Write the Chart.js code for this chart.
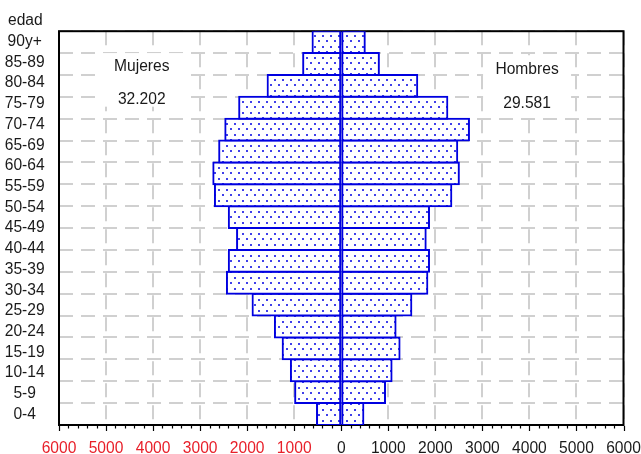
<!DOCTYPE html>
<html><head><meta charset="utf-8">
<script src="https://cdn.jsdelivr.net/npm/chart.js@4/dist/chart.umd.min.js"></script>
<style>html,body{margin:0;padding:0;background:#fff;}</style>
</head><body>
<canvas id="c" width="641" height="454"></canvas>
<script>
// Tick labels of the age axis (bottom to top, as printed)
const ageLabels = ['0-4','5-9','10-14','15-19','20-24','25-29','30-34','35-39','40-44','45-49','50-54','55-59','60-64','65-69','70-74','75-79','80-84','85-89','90y+'];
// Bar categories (18 bars drawn, bottom to top)
const barGroups = ['0-4','5-9','10-14','15-19','20-24','25-29','30-34','35-39','40-44','45-49','50-54','55-59','60-64','65-69','70-74','75-79','80-84','85+'];
// Series values (population per group)
const mujeres = [515,980,1070,1245,1410,1885,2430,2390,2215,2390,2685,2720,2595,2465,2170,1565,810,610];
const hombres = [470,930,1070,1240,1155,1490,1830,1865,1795,1865,2340,2500,2465,2715,2255,1615,800,500];
// Axis range / ticks
const xMin = -6000, xMax = 6000, majorStep = 1000, minorStep = 200;
const axisTitle = 'edad';
// Side texts
const notes = [
  {lines:['Mujeres','32.202'], x:-4240, y:[15.70,14.17], box:[16.5,14.05]},
  {lines:['Hombres','29.581'], x:3950, y:[15.56,13.99], box:[16.4,13.8]}
];

const FONT = '"Liberation Sans", Arial, sans-serif';
const FSIZE = 15.6;
const BLUE = '#0000e0';

function makePattern(){
  const c = document.createElement('canvas');
  c.width = 8; c.height = 11;
  const g = c.getContext('2d');
  g.fillStyle = '#ffffff'; g.fillRect(0,0,8,11);
  g.fillStyle = 'rgba(30,30,230,0.85)';
  g.fillRect(2,2,2,2);
  g.fillRect(6,7,2,2);
  return g.createPattern(c,'repeat');
}
const pattern = makePattern();

const decorPlugin = {
  id:'decor',
  beforeDatasetsDraw(chart){
    const {ctx, chartArea:a, scales} = chart;
    const xs = scales.x, ys = scales.y;
    ctx.save();
    ctx.font = FSIZE + 'px ' + FONT;
    // axis title
    ctx.fillStyle = '#1a1a1a';
    ctx.textAlign = 'left'; ctx.textBaseline = 'middle';
    ctx.fillText(axisTitle, scales.yl.left + 6, a.top - 11);
    // text boxes
    notes.forEach(n=>{
      const cx = xs.getPixelForValue(n.x);
      const yt = ys.getPixelForValue(n.box[0]), yb = ys.getPixelForValue(n.box[1]);
      ctx.fillStyle = '#ffffff';
      ctx.fillRect(cx-44, yt, 88, yb-yt);
      ctx.fillStyle = '#1a1a1a';
      ctx.textAlign = 'center';
      ctx.textBaseline = 'alphabetic';
      n.lines.forEach((t,i)=>ctx.fillText(t, cx, ys.getPixelForValue(n.y[i])));
    });
    // frame
    ctx.strokeStyle = '#000'; ctx.lineWidth = 2;
    ctx.strokeRect(a.left, a.top, a.right-a.left, a.bottom-a.top);
    // tick marks
    ctx.lineWidth = 1.2;
    for (let v = xMin; v <= xMax; v += minorStep){
      const px = Math.round(xs.getPixelForValue(v)) + 0.5;
      const len = (v % majorStep === 0) ? 5 : 2.5;
      ctx.beginPath(); ctx.moveTo(px, a.bottom+1); ctx.lineTo(px, a.bottom+1+len); ctx.stroke();
    }
    ctx.restore();
  }
};

const font = {family: FONT, size: FSIZE, weight:'normal'};

new Chart(document.getElementById('c'), {
  type:'bar',
  data:{
    labels: barGroups,
    datasets:[
      {label:'Mujeres', data: mujeres.map(v=>-v), xAxisID:'x', yAxisID:'y',
       backgroundColor: pattern, borderColor: BLUE, borderWidth:2, borderSkipped:false,
       inflateAmount:1, barPercentage:1, categoryPercentage:1},
      {label:'Hombres', data: hombres, xAxisID:'x', yAxisID:'y',
       backgroundColor: pattern, borderColor: BLUE, borderWidth:2, borderSkipped:false,
       inflateAmount:1, barPercentage:1, categoryPercentage:1}
    ]
  },
  options:{
    indexAxis:'y',
    responsive:false,
    animation:false,
    devicePixelRatio:1,
    layout:{padding:{left:2, right:17.5, top:31.2, bottom:0}},
    plugins:{
      legend:{display:false},
      tooltip:{enabled:false},
      title:{display:false}
    },
    scales:{
      x:{type:'linear', min:xMin, max:xMax, stacked:true, position:'bottom',
         ticks:{stepSize:majorStep, autoSkip:false, maxRotation:0, padding:14, font:font,
                callback:v=>String(Math.abs(v)),
                color:c=> (c.tick && c.tick.value < 0) ? '#e8202a' : '#1a1a1a'},
         grid:{color:'#d0d0d0', lineWidth:2, drawTicks:false},
         border:{display:false, dash:[14,8]},
         afterFit(s){ s.paddingLeft = 0; s.paddingRight = 0; s.height = 29; }},
      y:{type:'category', stacked:true, reverse:true, offset:true, position:'left',
         grid:{offset:true, color:'#d0d0d0', lineWidth:2, drawTicks:false},
         border:{display:false, dash:[14,8]},
         ticks:{display:false},
         afterFit(s){ s.width = 0; s.paddingTop = 0; s.paddingBottom = 0; }},
      yl:{type:'category', labels: ageLabels, reverse:true, offset:true, position:'left',
          grid:{display:false, drawTicks:false},
          border:{display:false},
          ticks:{font:font, color:'#1a1a1a', crossAlign:'center', padding:14.4, autoSkip:false},
          afterFit(s){ s.width = 57; s.paddingTop = 0; s.paddingBottom = 0; }}
    }
  },
  plugins:[decorPlugin]
});
</script>
</body></html>
